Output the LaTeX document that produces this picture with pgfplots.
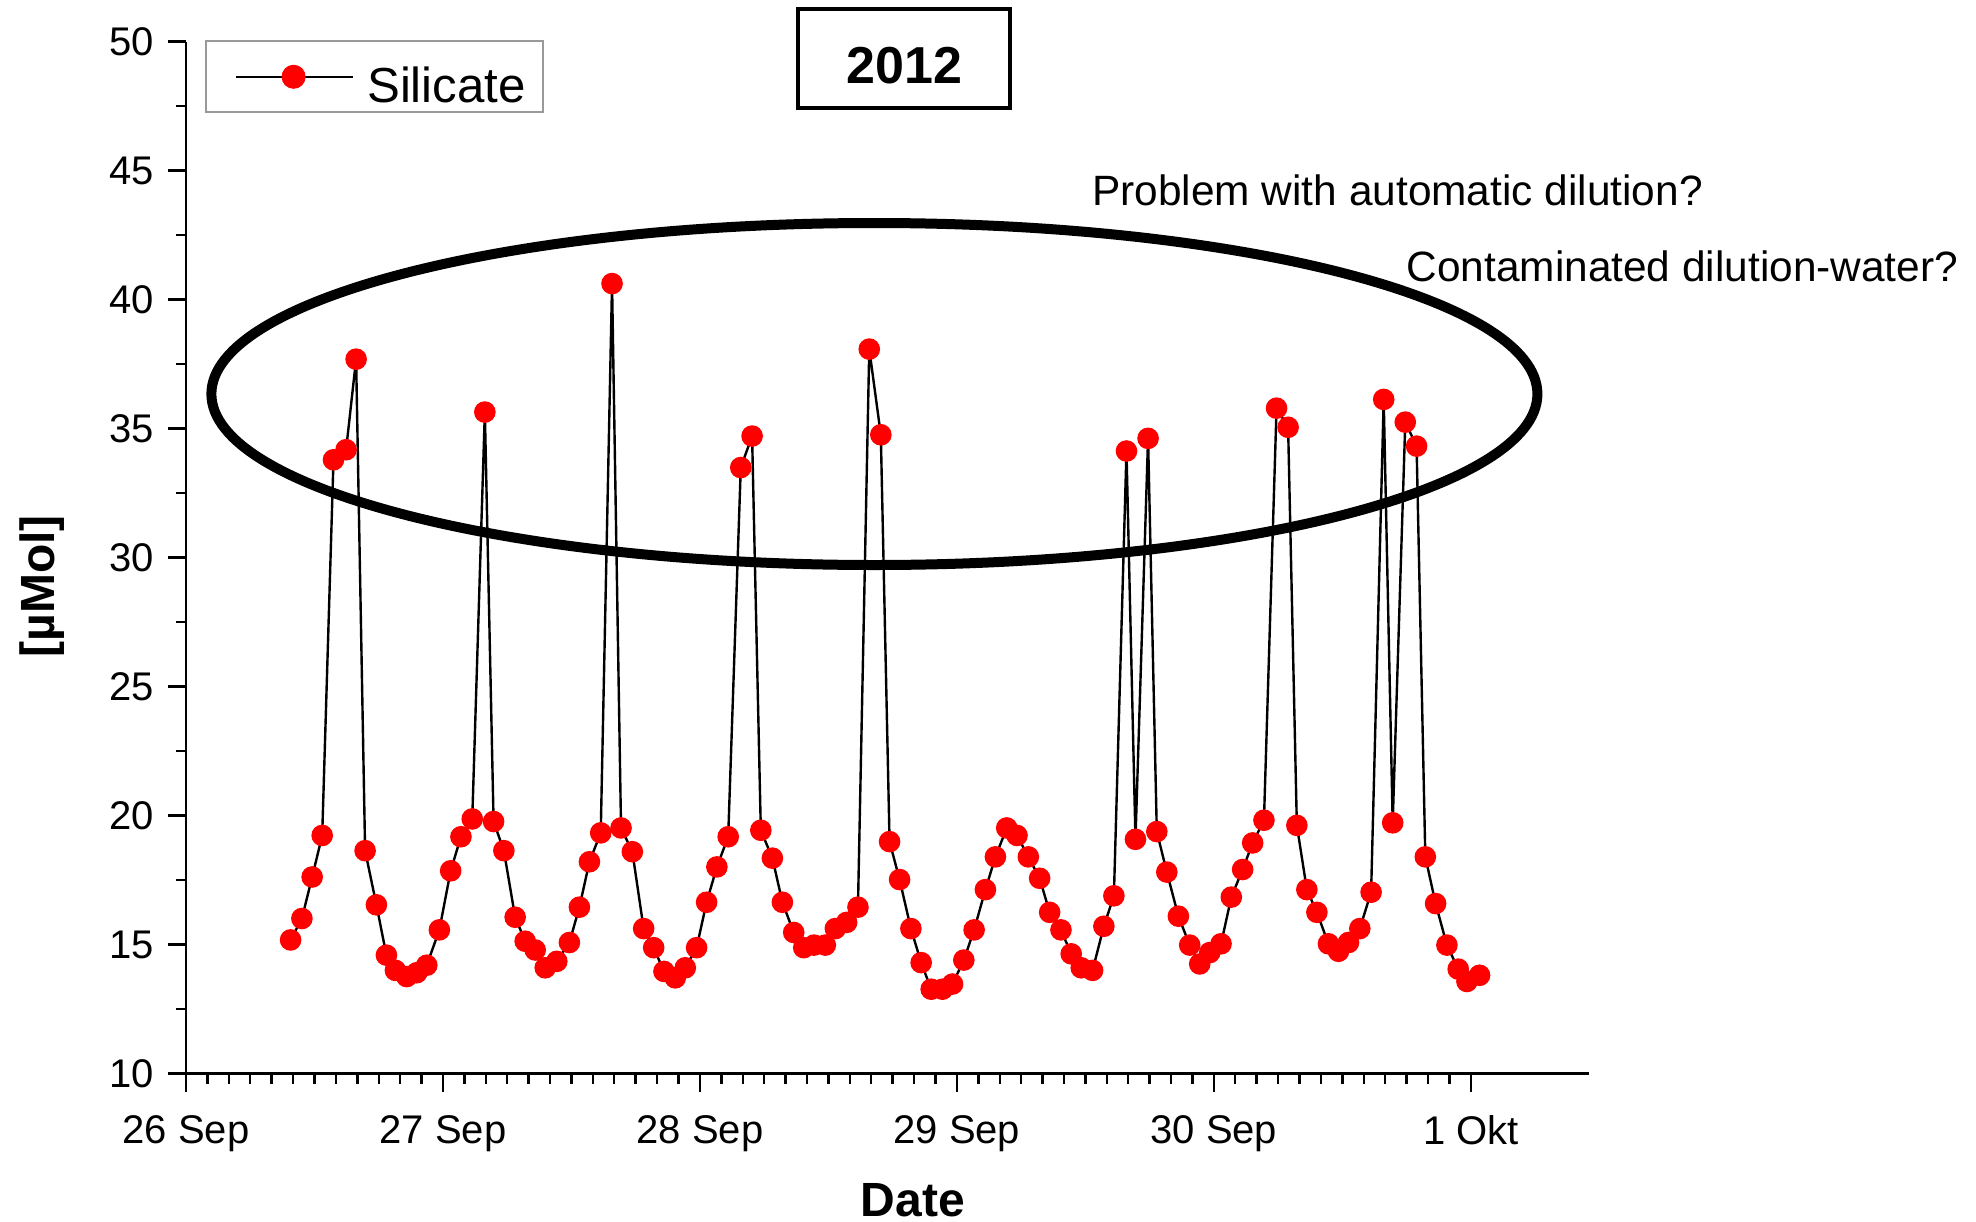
\documentclass[border=0pt]{standalone}
\usepackage{pgfplots}
\pgfplotsset{compat=1.18}
\usepackage{fontspec}
\setmainfont{Liberation Sans}
\begin{document}
\begin{tikzpicture}
\begin{axis}[
  scale only axis,
  width=350.75pt, height=258pt,
  xmin=0, xmax=5.46, ymin=10, ymax=50,
  axis lines=left,
  axis line style={-, line width=0.6pt},
  xtick={0,1,2,3,4,5},
  xticklabels={26 Sep,27 Sep,28 Sep,29 Sep,30 Sep,1 Okt},
  minor x tick num=11,
  ytick={10,15,20,25,30,35,40,45,50},
  minor y tick num=1,
  tick align=outside,
  major tick length=4.5pt, minor tick length=2.5pt,
  tick style={line width=0.6pt, black},
  /pgf/number format/assume math mode=true,
  ticklabel style={font=\fontsize{10}{12}\selectfont},
  xticklabel style={yshift=-2.4pt},
  xlabel={\textbf{Date}},
  ylabel={\textbf{[µMol]}},
  xlabel style={font=\fontsize{12}{14}\selectfont, at={(rel axis cs:0.518,0)}, anchor=center, yshift=-31.6pt},
  ylabel style={font=\fontsize{12}{14}\selectfont, at={(rel axis cs:0,0.472)}, anchor=center, yshift=36pt},
  clip=false,
  legend style={at={(rel axis cs:0,1)}, anchor=north west, xshift=4.75pt, yshift=0.3pt,
    draw=gray!80, line width=0.5pt, inner xsep=4.4pt, inner ysep=0pt,
    nodes={inner xsep=0pt, inner ysep=0pt, text height=15.4pt, text depth=2.3pt},
    font=\fontsize{12.3}{14}\selectfont},
  legend image code/.code={
    \path[draw=none, fill=none] (0pt,0pt) -- (35.9pt,0pt);
    \draw[black, line width=0.6pt] (3.1pt,0pt) -- (32.3pt,0pt);
    \fill[red] (17.5pt,0pt) circle (2.7pt);
  },
]
\addplot[black, line width=0.6pt, mark=*, mark size=2.4pt, mark options={fill=red, draw=red}] coordinates {
(0.407,15.18) (0.451,16.01) (0.491,17.62) (0.530,19.23) (0.574,33.79) (0.623,34.18)
(0.662,37.69) (0.697,18.64) (0.741,16.54) (0.780,14.59) (0.815,14.00) (0.859,13.76)
(0.898,13.91) (0.937,14.20) (0.986,15.57) (1.030,17.86) (1.070,19.18) (1.114,19.87)
(1.163,35.64) (1.197,19.77) (1.237,18.64) (1.281,16.06) (1.320,15.13) (1.359,14.79)
(1.398,14.10) (1.443,14.35) (1.492,15.08) (1.531,16.45) (1.570,18.21) (1.614,19.33)
(1.658,40.62) (1.693,19.52) (1.737,18.60) (1.781,15.62) (1.820,14.88) (1.860,13.96)
(1.904,13.71) (1.943,14.10) (1.987,14.88) (2.026,16.64) (2.066,18.01) (2.110,19.18)
(2.159,33.49) (2.203,34.71) (2.237,19.43) (2.282,18.35) (2.321,16.64) (2.365,15.47)
(2.404,14.88) (2.444,14.98) (2.488,14.98) (2.527,15.62) (2.571,15.86) (2.615,16.45)
(2.659,38.08) (2.704,34.76) (2.738,18.99) (2.777,17.52) (2.821,15.62) (2.861,14.30)
(2.900,13.27) (2.944,13.27) (2.983,13.47) (3.027,14.40) (3.067,15.57) (3.111,17.13)
(3.150,18.40) (3.194,19.52) (3.234,19.23) (3.278,18.40) (3.322,17.57) (3.361,16.25)
(3.405,15.57) (3.445,14.64) (3.484,14.10) (3.528,14.00) (3.572,15.71) (3.611,16.89)
(3.660,34.13) (3.695,19.08) (3.744,34.62) (3.778,19.38) (3.817,17.81) (3.862,16.10)
(3.906,14.98) (3.945,14.25) (3.984,14.69) (4.028,15.03) (4.068,16.84) (4.112,17.91)
(4.151,18.94) (4.195,19.82) (4.244,35.79) (4.289,35.05) (4.323,19.62) (4.362,17.13)
(4.401,16.25) (4.446,15.03) (4.485,14.74) (4.524,15.08) (4.568,15.62) (4.612,17.03)
(4.661,36.13) (4.696,19.72) (4.745,35.25) (4.789,34.32) (4.823,18.40) (4.863,16.59)
(4.907,14.98) (4.951,14.05) (4.985,13.57) (5.034,13.81)
};
\addlegendentry{Silicate}
\draw[line width=2.5pt] (axis cs:2.679,36.34) ellipse [x radius=165.75pt, y radius=42.75pt];
\node[draw, line width=1pt, minimum width=53pt, minimum height=24.75pt] at (axis cs:2.796,49.36) {};
\node[font=\bfseries\fontsize{13}{15}\selectfont, yshift=-1.9pt] at (axis cs:2.796,49.36) {2012};
\node[anchor=west, inner sep=0pt, font=\fontsize{10.6}{12}\selectfont] at (axis cs:3.524,44.25) {Problem with automatic dilution?};
\node[anchor=west, inner sep=0pt, font=\fontsize{10.6}{12}\selectfont] at (axis cs:4.747,41.30) {Contaminated dilution-water?};
\coordinate (bl) at (rel axis cs:0,0);
\coordinate (tr) at (rel axis cs:1,1);
\end{axis}
\pgfresetboundingbox
\path ([shift={(-46.5pt,-37.1pt)}]bl) rectangle ([shift={(96.75pt,10.4pt)}]tr);
\end{tikzpicture}
\end{document}
